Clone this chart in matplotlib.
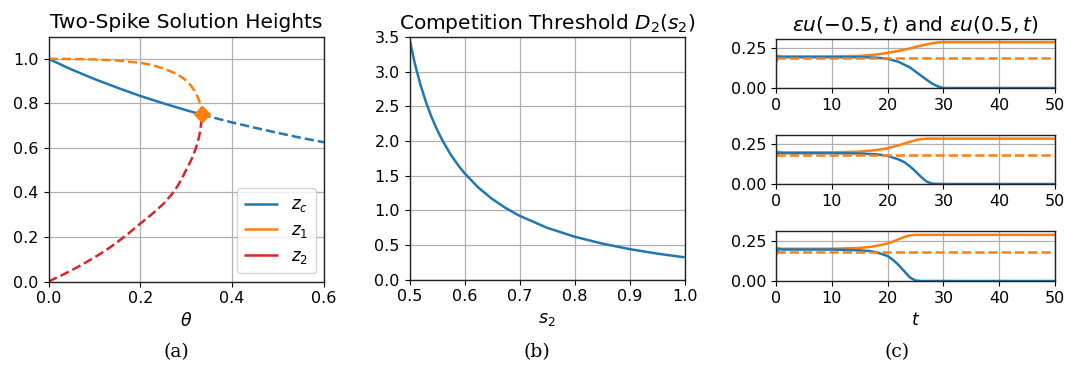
import matplotlib
matplotlib.use("Agg")
import matplotlib.pyplot as plt

# ---------------- data ----------------
# Panel (a)
theta_c_stable = [0.0, 0.05, 0.1, 0.15, 0.2, 0.25, 0.3, 0.3333]
zc_stable = [1.0, 0.952, 0.909, 0.870, 0.833, 0.800, 0.769, 0.750]
theta_c_unstable = [0.3333, 0.4, 0.45, 0.5, 0.55, 0.6]
zc_unstable = [0.750, 0.714, 0.690, 0.667, 0.645, 0.625]

theta_1 = [0.0, 0.05, 0.1, 0.15, 0.2, 0.225, 0.25, 0.27, 0.28, 0.29, 0.3, 0.31, 0.315,
           0.32, 0.325, 0.328, 0.331, 0.3325, 0.3333]
z1 = [1.0, 0.999, 0.997, 0.992, 0.982, 0.972, 0.957, 0.940, 0.930, 0.918, 0.902, 0.880, 0.865,
      0.848, 0.828, 0.812, 0.791, 0.775, 0.750]
theta_2 = [0.0, 0.025, 0.05, 0.075, 0.1, 0.125, 0.15, 0.175, 0.2, 0.225, 0.25, 0.27, 0.28,
           0.29, 0.3, 0.31, 0.315, 0.32, 0.325, 0.328, 0.331, 0.3325, 0.3333]
z2 = [0.0, 0.024, 0.050, 0.078, 0.108, 0.140, 0.177, 0.217, 0.260, 0.302, 0.348, 0.395, 0.425,
      0.460, 0.502, 0.542, 0.566, 0.593, 0.626, 0.651, 0.684, 0.711, 0.750]
fold_theta = 0.3333
fold_z = 0.75

# Panel (b)
s2 = [0.5, 0.51, 0.52, 0.53, 0.54, 0.55, 0.56, 0.575, 0.59, 0.6, 0.625, 0.65, 0.675,
      0.7, 0.75, 0.8, 0.85, 0.9, 0.95, 1.0]
D2 = [3.470, 3.107, 2.809, 2.559, 2.346, 2.164, 2.005, 1.802, 1.633, 1.534, 1.328, 1.164, 1.031,
      0.920, 0.747, 0.618, 0.519, 0.439, 0.374, 0.320]

# Panel (c): three runs
t_run1 = [0, 0.5, 1, 5, 10, 15, 18, 20, 22, 24, 25, 26, 27, 28, 29, 30, 35, 40, 50]
left_run1 = [0.17, 0.20, 0.195, 0.195, 0.195, 0.195, 0.192, 0.185, 0.165, 0.130, 0.104, 0.078, 0.052, 0.028, 0.010, 0.0, 0.0, 0.0, 0.0]
right_run1 = [0.21, 0.20, 0.20, 0.20, 0.20, 0.203, 0.212, 0.222, 0.235, 0.250, 0.260, 0.268, 0.276, 0.283, 0.288, 0.29, 0.29, 0.29, 0.29]
ref_run1 = 0.19

t_run2 = [0, 0.5, 1, 5, 10, 15, 18, 20, 22, 23, 24, 25, 26, 27, 28, 30, 35, 40, 50]
left_run2 = [0.17, 0.20, 0.195, 0.195, 0.195, 0.193, 0.188, 0.178, 0.155, 0.138, 0.112, 0.080, 0.045, 0.015, 0.002, 0.0, 0.0, 0.0, 0.0]
right_run2 = [0.21, 0.20, 0.20, 0.20, 0.20, 0.205, 0.215, 0.226, 0.245, 0.256, 0.267, 0.277, 0.284, 0.287, 0.287, 0.287, 0.287, 0.287, 0.287]
ref_run2 = 0.183

t_run3 = [0, 0.5, 1, 5, 10, 15, 17, 18, 20, 21, 22, 23, 24, 25, 26, 30, 35, 40, 50]
left_run3 = [0.16, 0.20, 0.195, 0.195, 0.195, 0.19, 0.185, 0.178, 0.155, 0.130, 0.098, 0.060, 0.022, 0.003, 0.0, 0.0, 0.0, 0.0, 0.0]
right_run3 = [0.21, 0.20, 0.20, 0.20, 0.20, 0.205, 0.212, 0.218, 0.232, 0.245, 0.260, 0.273, 0.283, 0.286, 0.286, 0.286, 0.286, 0.286, 0.286]
ref_run3 = 0.181

c_ticks = [0, 10, 20, 30, 40, 50]

# ---------------- styling ----------------
BLUE = "#1f77b4"
ORANGE = "#ff7f0e"
RED = "#d62728"
W, H = 1067, 370
plt.rcParams.update({
    "font.family": "DejaVu Sans",
    "font.size": 11.5,
    "axes.titlesize": 14.5,
    "axes.labelsize": 12.5,
    "xtick.labelsize": 11.5,
    "ytick.labelsize": 11.5,
    "axes.edgecolor": "#222222",
    "axes.linewidth": 1.0,
    "grid.color": "#b0b0b0",
    "grid.linewidth": 0.9,
    "lines.linewidth": 1.8,
    "lines.solid_capstyle": "butt",
})

fig = plt.figure(figsize=(W / 100, H / 100), dpi=100)


def ax_px(left, right, top, bottom):
    return fig.add_axes([left / W, (H - bottom) / H, (right - left) / W, (bottom - top) / H])


# ---- (a) ----
axa = ax_px(48.5, 324, 36.5, 281.5)
axa.plot(theta_c_stable, zc_stable, color=BLUE, label=r"$z_c$")
axa.plot(theta_c_unstable, zc_unstable, color=BLUE, ls="--")
axa.plot(theta_1, z1, color=ORANGE, ls="--")
axa.plot(theta_2, z2, color=RED, ls="--")
axa.plot([fold_theta], [fold_z], marker="D", color=ORANGE, ms=8, ls="none", zorder=5)
axa.plot([], [], color=ORANGE, label=r"$z_1$")
axa.plot([], [], color=RED, label=r"$z_2$")
axa.set_xlim(0, 0.6)
axa.set_ylim(0, 1.1)
axa.set_xticks([0.0, 0.2, 0.4, 0.6])
axa.set_yticks([0.0, 0.2, 0.4, 0.6, 0.8, 1.0])
axa.grid(True)
axa.set_title("Two-Spike Solution Heights")
axa.set_xlabel(r"$\theta$")
axa.legend(loc="lower right", fontsize=12, handlelength=2.0, borderpad=0.45,
           labelspacing=0.4, borderaxespad=0.5)

# ---- (b) ----
axb = ax_px(409.5, 684.5, 37, 279.5)
axb.plot(s2, D2, color=BLUE)
axb.set_xlim(0.5, 1.0)
axb.set_ylim(0, 3.5)
axb.set_xticks([0.5, 0.6, 0.7, 0.8, 0.9, 1.0])
axb.set_yticks([0.0, 0.5, 1.0, 1.5, 2.0, 2.5, 3.0, 3.5])
axb.grid(True)
axb.set_title(r"Competition Threshold $D_2(s_2)$")
axb.set_xlabel(r"$s_2$")

# ---- (c) ----
runs = [
    (t_run1, left_run1, right_run1, ref_run1, 39, 88),
    (t_run2, left_run2, right_run2, ref_run2, 135, 184),
    (t_run3, left_run3, right_run3, ref_run3, 231, 281),
]
axes_c = []
for t, lft, rgt, ref, top, bot in runs:
    ax = ax_px(776, 1055, top, bot)
    ax.plot(t, rgt, color=ORANGE)
    ax.plot(t, lft, color=BLUE)
    ax.axhline(ref, color=ORANGE, ls="--")
    ax.set_xlim(0, 50)
    ax.set_ylim(0, 0.31)
    ax.set_xticks(c_ticks)
    ax.set_yticks([0.0, 0.25])
    ax.set_yticklabels(["0.00", "0.25"])
    ax.grid(True)
    axes_c.append(ax)
axes_c[0].set_title(r"$\varepsilon u(-0.5,t)$ and $\varepsilon u(0.5,t)$")
axes_c[-1].set_xlabel(r"$t$")

# ---- captions ----
for x, lab in [(176, "(a)"), (537, "(b)"), (897, "(c)")]:
    fig.text(x / W, 1 - 352 / H, lab, ha="center", va="center", family="DejaVu Serif", fontsize=13.5)

fig.savefig("out.png", dpi=100)
